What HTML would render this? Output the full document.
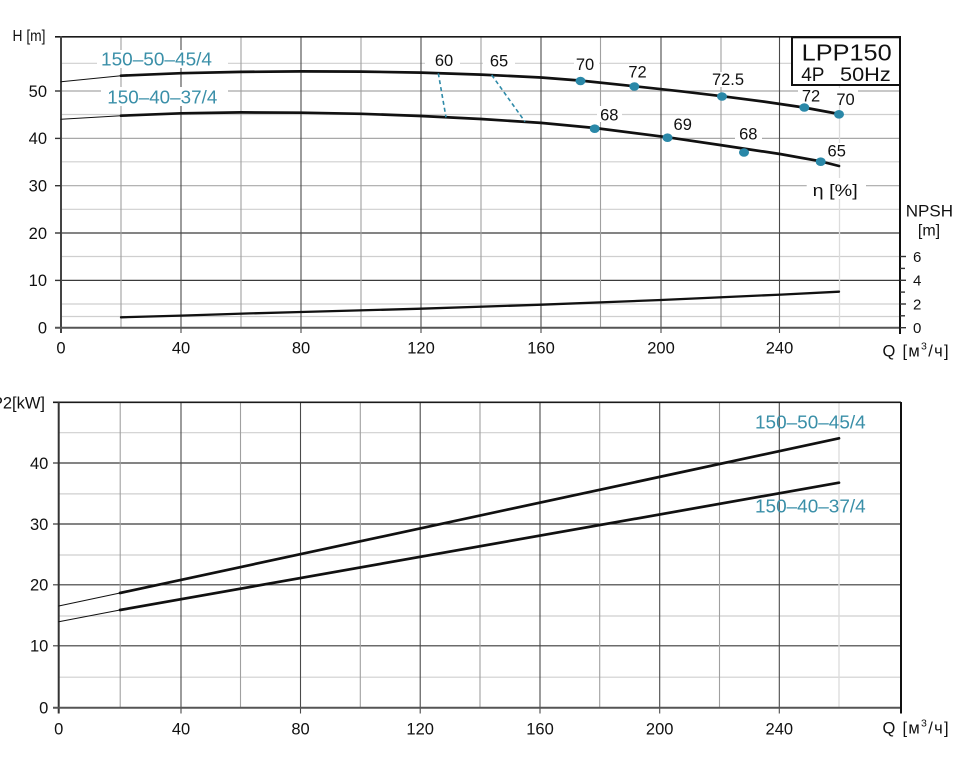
<!DOCTYPE html>
<html>
<head>
<meta charset="utf-8">
<style>
  html,body{margin:0;padding:0;background:#fff;}
  svg{display:block;}
  text{font-family:"Liberation Sans", Arial, sans-serif;}
</style>
</head>
<body>
<svg width="972" height="761" viewBox="0 0 972 761" xmlns="http://www.w3.org/2000/svg">
  <rect x="0" y="0" width="972" height="761" fill="#fff"/>

  <!-- ================= TOP CHART ================= -->
  <g stroke="#cfcfcf" stroke-width="1.2">
    <line x1="61" y1="63.3" x2="900" y2="63.3"/>
    <line x1="61" y1="114.5" x2="900" y2="114.5"/>
    <line x1="61" y1="161.8" x2="900" y2="161.8"/>
    <line x1="61" y1="209.3" x2="900" y2="209.3"/>
    <line x1="61" y1="256.5" x2="900" y2="256.5"/>
    <line x1="61" y1="304" x2="900" y2="304"/>
    <line x1="61" y1="316.5" x2="900" y2="316.5"/>
  </g>
  <g stroke="#a8a8a8" stroke-width="1.2">
    <line x1="61" y1="91" x2="900" y2="91"/>
    <line x1="61" y1="138.4" x2="900" y2="138.4"/>
    <line x1="61" y1="185.7" x2="900" y2="185.7"/>
  </g>
  <g stroke="#3a3a3a" stroke-width="1.2">
    <line x1="61" y1="233" x2="900" y2="233"/>
    <line x1="61" y1="280.4" x2="900" y2="280.4"/>
  </g>
  <g stroke="#a0a0a0" stroke-width="1.1">
    <line x1="121" y1="37" x2="121" y2="327.7"/>
    <line x1="241" y1="37" x2="241" y2="327.7"/>
    <line x1="361" y1="37" x2="361" y2="327.7"/>
    <line x1="481" y1="37" x2="481" y2="327.7"/>
    <line x1="600.5" y1="37" x2="600.5" y2="327.7"/>
    <line x1="721" y1="37" x2="721" y2="327.7"/>
  </g>
  <line x1="839.5" y1="37" x2="839.5" y2="327.7" stroke="#dcdcdc" stroke-width="1.3"/>
  <g stroke="#4a4a4a" stroke-width="1.1">
    <line x1="181" y1="37" x2="181" y2="333"/>
    <line x1="301" y1="37" x2="301" y2="333"/>
    <line x1="421" y1="37" x2="421" y2="333"/>
    <line x1="541" y1="37" x2="541" y2="333"/>
    <line x1="661" y1="37" x2="661" y2="333"/>
    <line x1="779.5" y1="37" x2="779.5" y2="333"/>
  </g>

  <!-- white label backgrounds (top) -->
  <g fill="#fff">
    <rect x="97" y="50" width="131" height="18"/>
    <rect x="101" y="87" width="127" height="19"/>
    <rect x="425" y="52" width="35" height="16"/>
    <rect x="483" y="52" width="32" height="16"/>
    <rect x="574" y="55" width="25" height="17"/>
    <rect x="709" y="72" width="38" height="15"/>
    <rect x="798" y="88" width="60" height="15"/>
    <rect x="597" y="106" width="25" height="16"/>
    <rect x="670" y="116" width="26" height="15.5"/>
    <rect x="735" y="125" width="27" height="16"/>
    <rect x="826" y="143" width="22" height="15"/>
    <rect x="806.7" y="178" width="59.3" height="21"/>
  </g>

  <!-- axes top -->
  <line x1="55" y1="36.8" x2="900" y2="36.8" stroke="#1a1a1a" stroke-width="1.6"/>
  <line x1="61" y1="36" x2="61" y2="333" stroke="#444" stroke-width="2"/>
  <line x1="55" y1="327.7" x2="900" y2="327.7" stroke="#555" stroke-width="2"/>
  <line x1="900" y1="36" x2="900" y2="334" stroke="#111" stroke-width="2"/>
  <g stroke="#333" stroke-width="1.4">
    <line x1="55" y1="91" x2="61" y2="91"/>
    <line x1="55" y1="138.4" x2="61" y2="138.4"/>
    <line x1="55" y1="185.7" x2="61" y2="185.7"/>
    <line x1="55" y1="233" x2="61" y2="233"/>
    <line x1="55" y1="280.4" x2="61" y2="280.4"/>
  </g>
  <g stroke="#333" stroke-width="1.4">
    <line x1="900" y1="327.7" x2="906" y2="327.7"/>
    <line x1="900" y1="315.8" x2="905" y2="315.8"/>
    <line x1="900" y1="304" x2="906" y2="304"/>
    <line x1="900" y1="292.1" x2="905" y2="292.1"/>
    <line x1="900" y1="280.3" x2="906" y2="280.3"/>
    <line x1="900" y1="268.4" x2="905" y2="268.4"/>
    <line x1="900" y1="256.5" x2="906" y2="256.5"/>
  </g>

  <!-- LPP150 box -->
  <rect x="792" y="37.3" width="108" height="47.7" fill="#fff" stroke="#111" stroke-width="2"/>
  <text x="801.7" y="60.7" font-size="23" textLength="90" lengthAdjust="spacingAndGlyphs" fill="#111">LPP150</text>
  <text x="801.2" y="81" font-size="19" fill="#111">4P</text>
  <text x="840" y="81" font-size="19.5" textLength="50.7" lengthAdjust="spacingAndGlyphs" fill="#111">50Hz</text>

  <!-- H curves -->
  <g fill="none" stroke="#111" stroke-linejoin="round" stroke-linecap="round">
    <polyline stroke-width="1" points="61,81.7 121,75.7"/>
    <polyline stroke-width="2.7" points="121,75.7 181,73.2 241,71.9 301,71.4 361,71.6 421,72.6 481,74.6 541,77.5 581,80.6 634,86.2 681,91.3 722,96.2 764,101.6 804,107.5 839,114"/>
    <polyline stroke-width="1" points="61,119.3 121,115.7"/>
    <polyline stroke-width="2.7" points="121,115.7 181,113.3 241,112.4 301,112.7 361,113.8 421,116 481,119 541,122.9 595,128 667,137.2 720,145 780,154 820,161.2 839,166"/>
    <polyline stroke-width="2.3" points="121,317.3 181,315.6 250,313.4 301,312 421,308.7 541,304.7 661,300 781,294.6 839,291.7"/>
  </g>

  <g stroke="#2e8aa8" stroke-width="1.6" stroke-dasharray="4 3" fill="none">
    <line x1="438.3" y1="73.3" x2="446" y2="117.3"/>
    <line x1="491.7" y1="75" x2="525" y2="121.7"/>
  </g>

  <g fill="#2a88a8">
    <ellipse cx="580.5" cy="81" rx="5" ry="4.3"/>
    <ellipse cx="634.3" cy="86.5" rx="5" ry="4.3"/>
    <ellipse cx="722" cy="96.5" rx="5" ry="4.3"/>
    <ellipse cx="804.3" cy="107.5" rx="5" ry="4.3"/>
    <ellipse cx="839" cy="114.3" rx="5" ry="4.3"/>
    <ellipse cx="594.7" cy="128.7" rx="5" ry="4.3"/>
    <ellipse cx="667.5" cy="137.7" rx="5" ry="4.3"/>
    <ellipse cx="744" cy="152.5" rx="5" ry="4.3"/>
    <ellipse cx="820.7" cy="161.7" rx="5" ry="4.3"/>
  </g>

  <g font-size="16.5" fill="#111" text-anchor="middle">
    <text x="444" y="66">60</text>
    <text x="499" y="66.5">65</text>
    <text x="585" y="70">70</text>
    <text x="637.5" y="77.3">72</text>
    <text x="728" y="85">72.5</text>
    <text x="811" y="101.7">72</text>
    <text x="845.5" y="105">70</text>
    <text x="609.3" y="120.7">68</text>
    <text x="682.7" y="130">69</text>
    <text x="748.3" y="139.3">68</text>
    <text x="836.7" y="156.7">65</text>
  </g>
  <text x="812.7" y="196" font-size="17" textLength="45" lengthAdjust="spacingAndGlyphs" fill="#111">η [%]</text>

  <text x="101" y="65.7" font-size="18.5" textLength="111" lengthAdjust="spacingAndGlyphs" fill="#3a8fa8">150–50–45/4</text>
  <text x="107.3" y="103.3" font-size="18.5" textLength="110" lengthAdjust="spacingAndGlyphs" fill="#3a8fa8">150–40–37/4</text>

  <text x="12.5" y="40.8" font-size="16" textLength="33" lengthAdjust="spacingAndGlyphs" fill="#111">H [m]</text>
  <g font-size="16.5" fill="#111" text-anchor="end">
    <text x="47" y="96.8">50</text>
    <text x="47" y="144.2">40</text>
    <text x="47" y="191.5">30</text>
    <text x="47" y="238.8">20</text>
    <text x="47" y="286.2">10</text>
    <text x="47" y="333.5">0</text>
  </g>
  <g font-size="16.5" fill="#111" text-anchor="middle">
    <text x="61" y="353.5">0</text>
    <text x="181" y="353.5">40</text>
    <text x="301" y="353.5">80</text>
    <text x="421" y="353.5">120</text>
    <text x="541" y="353.5">160</text>
    <text x="661" y="353.5">200</text>
    <text x="779.5" y="353.5">240</text>
  </g>
  <text x="905.7" y="216.7" font-size="17" textLength="47.3" lengthAdjust="spacingAndGlyphs" fill="#111">NPSH</text>
  <text x="929" y="235.7" font-size="16" text-anchor="middle" fill="#111">[m]</text>
  <g font-size="15" fill="#111">
    <text x="913" y="261.8">6</text>
    <text x="913" y="285.6">4</text>
    <text x="913" y="309.3">2</text>
    <text x="913" y="333">0</text>
  </g>
  <text x="882.5" y="356.7" font-size="16.5" letter-spacing="1.3" fill="#111">Q [м<tspan font-size="10.5" dy="-7">3</tspan><tspan dy="7">/ч]</tspan></text>

  <!-- ================= BOTTOM CHART ================= -->
  <g stroke="#cfcfcf" stroke-width="1.2">
    <line x1="59" y1="432.7" x2="901" y2="432.7"/>
    <line x1="59" y1="493.9" x2="901" y2="493.9"/>
    <line x1="59" y1="555" x2="901" y2="555"/>
    <line x1="59" y1="616" x2="901" y2="616"/>
    <line x1="59" y1="677.2" x2="901" y2="677.2"/>
  </g>
  <g stroke="#3a3a3a" stroke-width="1.2">
    <line x1="53" y1="463" x2="901" y2="463"/>
    <line x1="53" y1="524" x2="901" y2="524"/>
    <line x1="53" y1="584.8" x2="901" y2="584.8"/>
    <line x1="53" y1="645.8" x2="901" y2="645.8"/>
  </g>
  <g stroke="#a0a0a0" stroke-width="1.1">
    <line x1="120.2" y1="402.3" x2="120.2" y2="707.7"/>
    <line x1="240.5" y1="402.3" x2="240.5" y2="707.7"/>
    <line x1="360.3" y1="402.3" x2="360.3" y2="707.7"/>
    <line x1="480" y1="402.3" x2="480" y2="707.7"/>
    <line x1="599.7" y1="402.3" x2="599.7" y2="707.7"/>
    <line x1="719.5" y1="402.3" x2="719.5" y2="707.7"/>
  </g>
  <line x1="839" y1="402.3" x2="839" y2="707.7" stroke="#dcdcdc" stroke-width="1.3"/>
  <g stroke="#4a4a4a" stroke-width="1.1">
    <line x1="181" y1="402.3" x2="181" y2="713.5"/>
    <line x1="300.5" y1="402.3" x2="300.5" y2="713.5"/>
    <line x1="420.2" y1="402.3" x2="420.2" y2="713.5"/>
    <line x1="540" y1="402.3" x2="540" y2="713.5"/>
    <line x1="659.7" y1="402.3" x2="659.7" y2="713.5"/>
    <line x1="779.3" y1="402.3" x2="779.3" y2="713.5"/>
  </g>
  <line x1="53" y1="402.3" x2="901" y2="402.3" stroke="#1a1a1a" stroke-width="1.6"/>
  <line x1="58.7" y1="402" x2="58.7" y2="713.5" stroke="#333" stroke-width="2"/>
  <line x1="53" y1="707.7" x2="901" y2="707.7" stroke="#555" stroke-width="2"/>
  <line x1="901" y1="402" x2="901" y2="713.5" stroke="#111" stroke-width="2"/>

  <g fill="none" stroke="#111" stroke-linecap="round">
    <line x1="58.7" y1="606" x2="120" y2="593" stroke-width="1"/>
    <line x1="120" y1="593" x2="839" y2="438.3" stroke-width="2.7"/>
    <line x1="58.7" y1="621.7" x2="120" y2="610" stroke-width="1"/>
    <line x1="120" y1="610" x2="839" y2="482.7" stroke-width="2.7"/>
  </g>

  <text x="755" y="428.3" font-size="18.5" textLength="110.7" lengthAdjust="spacingAndGlyphs" fill="#3a8fa8">150–50–45/4</text>
  <text x="755" y="512.7" font-size="18.5" textLength="110.7" lengthAdjust="spacingAndGlyphs" fill="#3a8fa8">150–40–37/4</text>

  <text x="45" y="408.3" font-size="16.5" text-anchor="end" fill="#111">P2[kW]</text>
  <g font-size="16.5" fill="#111" text-anchor="end">
    <text x="48.3" y="468.8">40</text>
    <text x="48.3" y="529.8">30</text>
    <text x="48.3" y="590.6">20</text>
    <text x="48.3" y="651.5">10</text>
    <text x="48.3" y="713.6">0</text>
  </g>
  <g font-size="16.5" fill="#111" text-anchor="middle">
    <text x="58.7" y="734.7">0</text>
    <text x="181" y="734.7">40</text>
    <text x="300.5" y="734.7">80</text>
    <text x="420.2" y="734.7">120</text>
    <text x="540" y="734.7">160</text>
    <text x="659.7" y="734.7">200</text>
    <text x="779.3" y="734.7">240</text>
  </g>
  <text x="882.5" y="733.5" font-size="16.5" letter-spacing="1.3" fill="#111">Q [м<tspan font-size="10.5" dy="-7">3</tspan><tspan dy="7">/ч]</tspan></text>
</svg>
</body>
</html>
